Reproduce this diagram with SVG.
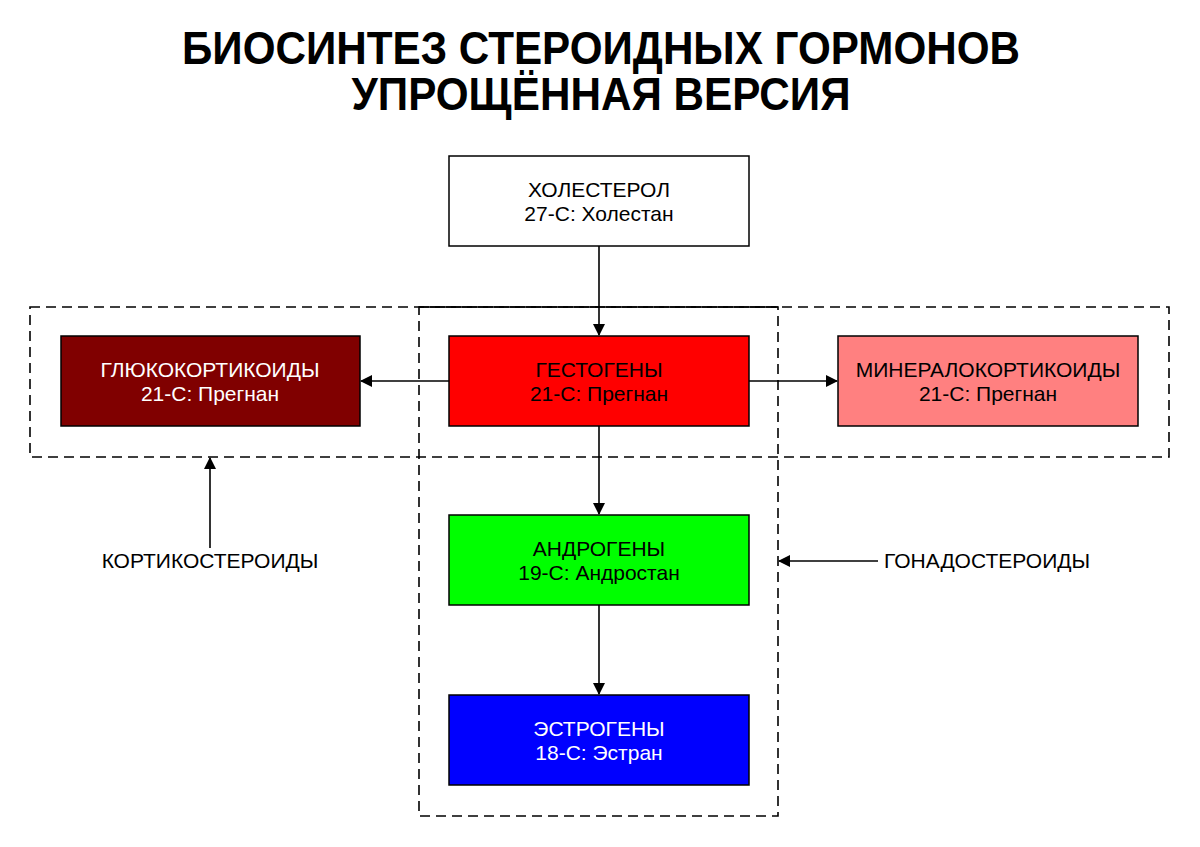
<svg xmlns="http://www.w3.org/2000/svg" width="1200" height="847" viewBox="0 0 1200 847">
<style>
.title{font-family:"Liberation Sans",Arial,sans-serif;font-weight:bold;font-size:46px;fill:#000;text-anchor:middle}
.t{font-family:"Liberation Sans",Arial,sans-serif;font-size:21px;text-anchor:middle}
.lbl{font-family:"Liberation Sans",Arial,sans-serif;font-size:21px;fill:#000}
.box{stroke:#000;stroke-width:1.5}
.dash{fill:none;stroke:#000;stroke-width:1.6;stroke-dasharray:10 6}
.conn{stroke:#000;stroke-width:1.6;fill:none;marker-end:url(#arr)}
</style>
<defs>
<marker id="arr" markerWidth="12" markerHeight="12" refX="11" refY="6" orient="auto" markerUnits="userSpaceOnUse">
<path d="M0,0 L12,6 L0,12 z" fill="#000"/>
</marker>
</defs>
<rect width="1200" height="847" fill="#fff"/>
<g id="title">
<text class="title" x="601" y="64" textLength="838" lengthAdjust="spacingAndGlyphs">БИОСИНТЕЗ СТЕРОИДНЫХ ГОРМОНОВ</text>
<text class="title" x="601" y="110" textLength="499" lengthAdjust="spacingAndGlyphs">УПРОЩЁННАЯ ВЕРСИЯ</text>
</g>
<g id="groups">
<rect id="corticosteroids-box" class="dash" x="30" y="307" width="1139" height="150"/>
<rect id="gonadosteroids-box" class="dash" x="419" y="307" width="359" height="509"/>
<line x1="419" y1="307" x2="778" y2="307" stroke="#000" stroke-width="1.6"/>
</g>
<g id="connectors">
<line class="conn" x1="599" y1="246" x2="599" y2="335"/>
<line class="conn" x1="449" y1="381" x2="361" y2="381"/>
<line class="conn" x1="749" y1="381" x2="837" y2="381"/>
<line class="conn" x1="599" y1="426" x2="599" y2="514"/>
<line class="conn" x1="599" y1="605" x2="599" y2="694"/>
<line class="conn" x1="210" y1="548" x2="210" y2="458"/>
<line class="conn" x1="878" y1="561" x2="779" y2="561"/>
</g>
<g id="cholesterol">
<rect class="box" x="449" y="156" width="300" height="90" fill="#fff"/>
<text class="t" x="599" y="197" fill="#000">ХОЛЕСТЕРОЛ</text>
<text class="t" x="599" y="221" fill="#000">27-С: Холестан</text>
</g>
<g id="gestogens">
<rect class="box" x="449" y="336" width="300" height="90" fill="#ff0000"/>
<text class="t" x="599" y="377" fill="#000">ГЕСТОГЕНЫ</text>
<text class="t" x="599" y="401" fill="#000">21-С: Прегнан</text>
</g>
<g id="glucocorticoids">
<rect class="box" x="61" y="336" width="299" height="90" fill="#800000"/>
<text class="t" x="210" y="377" fill="#fff">ГЛЮКОКОРТИКОИДЫ</text>
<text class="t" x="210" y="401" fill="#fff">21-С: Прегнан</text>
</g>
<g id="mineralocorticoids">
<rect class="box" x="838" y="336" width="300" height="90" fill="#ff8080"/>
<text class="t" x="988" y="377" fill="#000">МИНЕРАЛОКОРТИКОИДЫ</text>
<text class="t" x="988" y="401" fill="#000">21-С: Прегнан</text>
</g>
<g id="androgens">
<rect class="box" x="449" y="515" width="300" height="90" fill="#00ff00"/>
<text class="t" x="599" y="556" fill="#000">АНДРОГЕНЫ</text>
<text class="t" x="599" y="580" fill="#000">19-С: Андростан</text>
</g>
<g id="estrogens">
<rect class="box" x="449" y="695" width="300" height="90" fill="#0000ff"/>
<text class="t" x="599" y="736" fill="#fff">ЭСТРОГЕНЫ</text>
<text class="t" x="599" y="760" fill="#fff">18-С: Эстран</text>
</g>
<g id="label-corticosteroids">
<text class="lbl" x="210" y="568" text-anchor="middle">КОРТИКОСТЕРОИДЫ</text>
</g>
<g id="label-gonadosteroids">
<text class="lbl" x="884" y="568">ГОНАДОСТЕРОИДЫ</text>
</g>
</svg>
